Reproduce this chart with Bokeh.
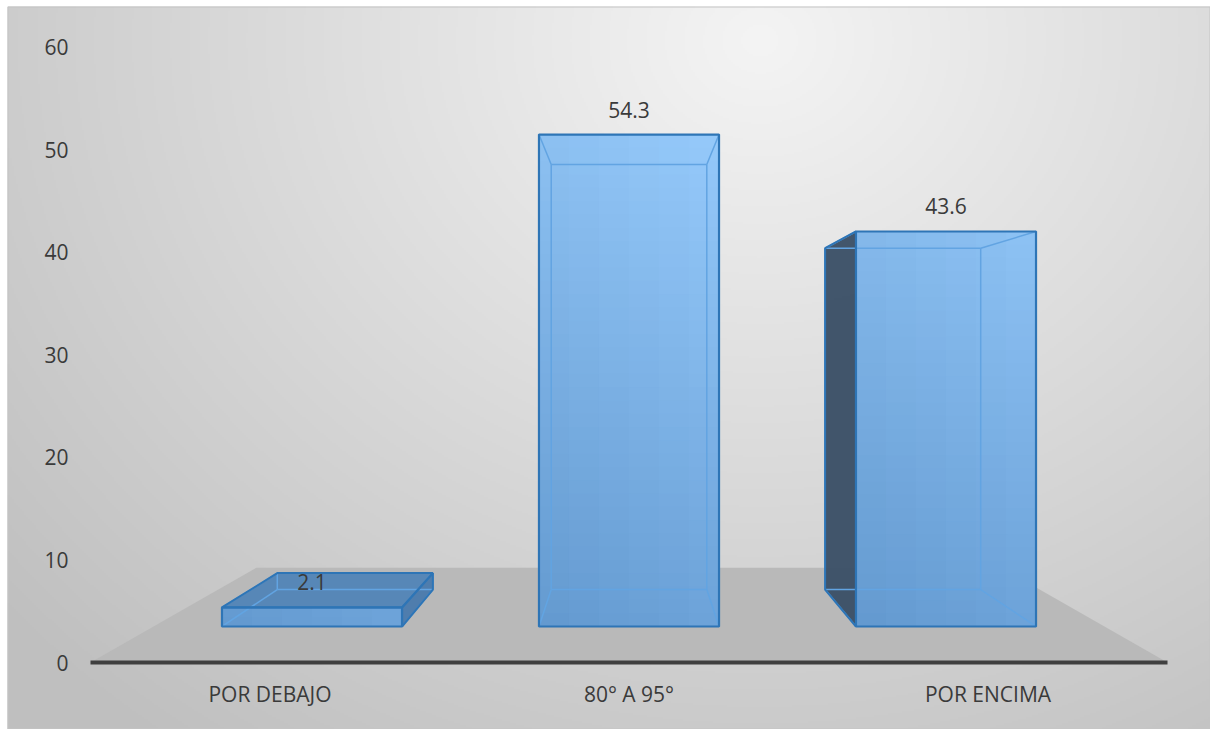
import numpy as np
from bokeh.plotting import figure
from bokeh.models import Range1d
from bokeh.core.properties import value
from bokeh.embed import file_html
from bokeh.resources import INLINE

# ---------------- data ----------------
categories = ["POR DEBAJO", "80° A 95°", "POR ENCIMA"]
values = [2.1, 54.3, 43.6]
value_labels = ["2.1", "54.3", "43.6"]
y_ticks = [0, 10, 20, 30, 40, 50, 60]

# ---------------- layout / scale constants ----------------
W, H = 1210, 729
X0_PX, X_UNIT = 90.0, 359.0    # pixel of category-axis start, px per category
Y0_PX, Y_UNIT = 662.0, 10.26   # pixel of value 0, px per value unit


def to_dx(px):
    return (px - X0_PX) / X_UNIT


def to_dy(py):
    return (Y0_PX - py) / Y_UNIT


# perspective (vanishing point in data units and depth scale factors)
XV, VV = 1.5, 30.0
S_FRONT, S_BACK, S_FLOOR = 0.883, 0.763, 0.692
HW = 0.284  # half bar width in categories


def proj(x, v, s):
    return XV + (x - XV) * s, VV + (v - VV) * s


p = figure(width=W, height=H,
           x_range=Range1d(to_dx(0), to_dx(W)),
           y_range=Range1d(to_dy(H), to_dy(0)),
           output_backend="svg", toolbar_location=None,
           x_axis_type=None, y_axis_type=None,
           min_border=0, outline_line_color=None,
           background_fill_color="white", border_fill_color="white")
p.grid.grid_line_color = None

# ---------------- background gradient ----------------
bx0, by0 = 7, 6
cols, rows = 602, 362
pxs = bx0 + (np.arange(cols) + 0.5) * (W - bx0) / cols
pys = by0 + (np.arange(rows) + 0.5) * (H - by0) / rows
GX, GY = np.meshgrid(pxs, pys)
d = np.sqrt(((GX - 760) / 800) ** 2 + ((GY - 40) / 700) ** 2)
g = np.clip(244 - 42 * np.clip(d, 0, 1.25), 0, 255).astype(np.uint8)
img = np.empty((rows, cols), dtype=np.uint32)
view = img.view(dtype=np.uint8).reshape((rows, cols, 4))
view[..., 0] = g
view[..., 1] = g
view[..., 2] = g
view[..., 3] = 255
img = np.ascontiguousarray(img[::-1])
p.image_rgba(image=[img], x=to_dx(bx0), y=to_dy(H),
             dw=(W - bx0) / X_UNIT, dh=(H - by0) / Y_UNIT)
p.quad(left=to_dx(bx0 + 0.5), right=to_dx(W - 0.5), top=to_dy(by0 + 0.5),
       bottom=to_dy(H - 0.5), fill_color=None, line_color="#c4c4c4", line_width=1)

# ---------------- floor ----------------
n_cat = len(categories)
floor = [proj(0, 0, 1), proj(n_cat, 0, 1), proj(n_cat, 0, S_FLOOR), proj(0, 0, S_FLOOR)]
p.patch([q[0] for q in floor], [q[1] for q in floor],
        fill_color="#b9b9b9", line_color=None)
p.line([0, n_cat], [0, 0], line_color="#3f3f3f", line_width=4)


# ---------------- bars ----------------
BOT = (104, 158, 212)
TOP = (145, 197, 246)
EDGE = "#2e75b6"
INNER = "#62a4e2"


def poly(ax, pts, **kw):
    ax.patch([q[0] for q in pts], [q[1] for q in pts], **kw)


for i, val in enumerate(values):
    c = i + 0.5
    xl, xr = c - HW, c + HW
    F = [proj(xl, 0, S_FRONT), proj(xr, 0, S_FRONT), proj(xr, val, S_FRONT), proj(xl, val, S_FRONT)]
    B = [proj(xl, 0, S_BACK), proj(xr, 0, S_BACK), proj(xr, val, S_BACK), proj(xl, val, S_BACK)]

    sides = []
    if xl > XV:
        sides.append(([F[0], F[3], B[3], B[0]], "#3c5167"))
    if xr < XV:
        sides.append(([F[1], F[2], B[2], B[1]], "#4b7bac"))
    if val < VV:
        sides.append(([F[3], F[2], B[2], B[3]], "#5485b7"))
    for pts, col in sides:
        poly(p, pts, fill_color=col, fill_alpha=0.97, line_color=None)

    # front face with gentle gradient
    n_rows = max(1, int(np.ceil(val / 1.5)))
    n_cols = 6
    xs_list, ys_list, colors = [], [], []
    for r in range(n_rows):
        va = val * r / n_rows
        vb = min(val, val * (r + 1) / n_rows + 0.3)
        vm = (va + vb) / 2
        for k in range(n_cols):
            xa = xl + (xr - xl) * k / n_cols
            xb = min(xr, xl + (xr - xl) * (k + 1) / n_cols + 0.004)
            quad = [proj(xa, va, S_FRONT), proj(xb, va, S_FRONT),
                    proj(xb, vb, S_FRONT), proj(xa, vb, S_FRONT)]
            t = min(1.0, vm / 55.0)
            hx = (k + 0.5) / n_cols
            colr = [min(255, a + (b - a) * t + 10 * (hx - 0.5)) for a, b in zip(BOT, TOP)]
            colors.append("#%02x%02x%02x" % tuple(int(round(q)) for q in colr))
            xs_list.append([q[0] for q in quad])
            ys_list.append([q[1] for q in quad])
    p.patches(xs_list, ys_list, fill_color=colors, line_color=None, fill_alpha=1.0)

    # inner (see-through) edges
    for a, b in [(0, 1), (1, 2), (2, 3), (3, 0)]:
        p.line([B[a][0], B[b][0]], [B[a][1], B[b][1]], line_color=INNER, line_width=1.5)
    for k in range(4):
        p.line([F[k][0], B[k][0]], [F[k][1], B[k][1]], line_color=INNER, line_width=1.5)

    # dark outlines
    for pts, col in sides:
        poly(p, pts, fill_color=None, line_color=EDGE, line_width=2)
    poly(p, F, fill_color=None, line_color=EDGE, line_width=2.2)

# ---------------- texts ----------------
FONT = value("Open Sans")
TXT = "#3a3a3a"
FS = "21px"

p.text(x=[0] * len(y_ticks), y=y_ticks, text=[str(t) for t in y_ticks],
       x_offset=-22, text_align="right", text_baseline="middle",
       text_font=FONT, text_font_size=FS, text_color=TXT)

p.text(x=[i + 0.5 for i in range(n_cat)], y=[0] * n_cat, text=categories,
       y_offset=31, text_align="center", text_baseline="middle",
       text_font=FONT, text_font_size=FS, text_color=TXT)

lx = [proj(i + 0.5, v, S_FRONT)[0] for i, v in enumerate(values)]
ly = [proj(i + 0.5, v, S_FRONT)[1] for i, v in enumerate(values)]
p.text(x=lx, y=ly, text=value_labels, y_offset=-25,
       text_align="center", text_baseline="middle",
       text_font=FONT, text_font_size=FS, text_color=TXT)

open("out.html", "w").write(file_html(p, INLINE))
